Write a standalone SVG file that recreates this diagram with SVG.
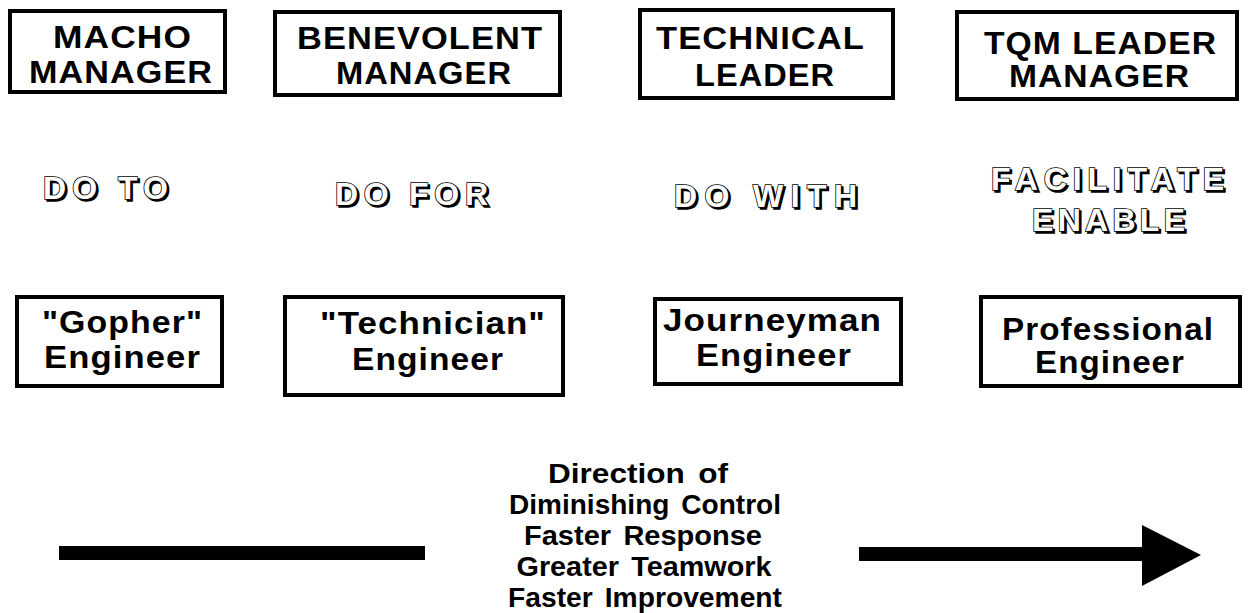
<svg xmlns="http://www.w3.org/2000/svg" width="1248" height="613" viewBox="0 0 1248 613">
<style>
.box{fill:#fff;stroke:#000;stroke-width:4}
.t{font-family:"Liberation Sans",Arial,Helvetica,sans-serif;font-weight:bold;font-size:32px;fill:#000;letter-spacing:1px}
.b{font-family:"Liberation Sans",Arial,Helvetica,sans-serif;font-weight:bold;font-size:27px;fill:#000;word-spacing:4px}
.o{font-family:"Liberation Sans",Arial,Helvetica,sans-serif;font-weight:bold;font-size:32px;fill:#fff;stroke:#000;stroke-width:1.6;paint-order:stroke}
.s{font-family:"Liberation Sans",Arial,Helvetica,sans-serif;font-weight:bold;font-size:32px;fill:#000;stroke:#000;stroke-width:1.6}
.bar{fill:#000}
</style>
<rect width="1248" height="613" fill="#fff"/>
<g id="macho-manager">
<rect class="box" x="10" y="11" width="215" height="81"/>
<text class="t" x="53" y="48" textLength="139" lengthAdjust="spacingAndGlyphs">MACHO</text>
<text class="t" x="29" y="83" textLength="184" lengthAdjust="spacingAndGlyphs">MANAGER</text>
</g>
<g id="benevolent-manager">
<rect class="box" x="275" y="12" width="285" height="83"/>
<text class="t" x="297" y="49" textLength="246" lengthAdjust="spacingAndGlyphs">BENEVOLENT</text>
<text class="t" x="336" y="84" textLength="176" lengthAdjust="spacingAndGlyphs">MANAGER</text>
</g>
<g id="technical-leader">
<rect class="box" x="640" y="10" width="253" height="88"/>
<text class="t" x="656" y="49" textLength="209" lengthAdjust="spacingAndGlyphs">TECHNICAL</text>
<text class="t" x="695" y="86" textLength="140" lengthAdjust="spacingAndGlyphs">LEADER</text>
</g>
<g id="tqm-leader-manager">
<rect class="box" x="957" y="12" width="280" height="87"/>
<text class="t" x="984" y="54" textLength="233" lengthAdjust="spacingAndGlyphs">TQM LEADER</text>
<text class="t" x="1009" y="87" textLength="181" lengthAdjust="spacingAndGlyphs">MANAGER</text>
</g>
<g id="do-to">
<text class="s" x="45" y="201" textLength="125" lengthAdjust="spacing">DO TO</text>
<text class="o" x="43" y="199" textLength="125" lengthAdjust="spacing">DO TO</text>
</g>
<g id="do-for">
<text class="s" x="337" y="207" textLength="153" lengthAdjust="spacing">DO FOR</text>
<text class="o" x="335" y="205" textLength="153" lengthAdjust="spacing">DO FOR</text>
</g>
<g id="do-with">
<text class="s" x="676" y="209" textLength="183" lengthAdjust="spacing">DO WITH</text>
<text class="o" x="674" y="207" textLength="183" lengthAdjust="spacing">DO WITH</text>
</g>
<g id="facilitate-enable">
<text class="s" x="993" y="192" textLength="233" lengthAdjust="spacing">FACILITATE</text>
<text class="o" x="991" y="190" textLength="233" lengthAdjust="spacing">FACILITATE</text>
<text class="s" x="1034" y="233" textLength="153" lengthAdjust="spacing">ENABLE</text>
<text class="o" x="1032" y="231" textLength="153" lengthAdjust="spacing">ENABLE</text>
</g>
<g id="gopher-engineer">
<rect class="box" x="17" y="297" width="205" height="89"/>
<text class="t" x="42" y="333" textLength="161" lengthAdjust="spacingAndGlyphs">"Gopher"</text>
<text class="t" x="44" y="368" textLength="157" lengthAdjust="spacingAndGlyphs">Engineer</text>
</g>
<g id="technician-engineer">
<rect class="box" x="285" y="297" width="278" height="98"/>
<text class="t" x="320" y="334" textLength="226" lengthAdjust="spacingAndGlyphs">"Technician"</text>
<text class="t" x="352" y="370" textLength="152" lengthAdjust="spacingAndGlyphs">Engineer</text>
</g>
<g id="journeyman-engineer">
<rect class="box" x="655" y="299" width="246" height="85"/>
<text class="t" x="663" y="331" textLength="219" lengthAdjust="spacingAndGlyphs">Journeyman</text>
<text class="t" x="696" y="366" textLength="156" lengthAdjust="spacingAndGlyphs">Engineer</text>
</g>
<g id="professional-engineer">
<rect class="box" x="981" y="297" width="259" height="89"/>
<text class="t" x="1002" y="340" textLength="212" lengthAdjust="spacingAndGlyphs">Professional</text>
<text class="t" x="1035" y="373" textLength="150" lengthAdjust="spacingAndGlyphs">Engineer</text>
</g>
<g id="direction-label">
<text class="b" x="638" y="483" text-anchor="middle" textLength="180" lengthAdjust="spacingAndGlyphs">Direction of</text>
<text class="b" x="645" y="514" text-anchor="middle" textLength="272" lengthAdjust="spacingAndGlyphs">Diminishing Control</text>
<text class="b" x="643" y="545" text-anchor="middle" textLength="238" lengthAdjust="spacingAndGlyphs">Faster Response</text>
<text class="b" x="644" y="576" text-anchor="middle" textLength="255" lengthAdjust="spacingAndGlyphs">Greater Teamwork</text>
<text class="b" x="645" y="607" text-anchor="middle" textLength="274" lengthAdjust="spacingAndGlyphs">Faster Improvement</text>
</g>
<g id="connectors">
<rect class="bar" x="59" y="546" width="366" height="14"/>
<rect class="bar" x="859" y="547" width="290" height="14"/>
<polygon class="bar" points="1142,525 1201,555 1142,586"/>
</g>
</svg>
